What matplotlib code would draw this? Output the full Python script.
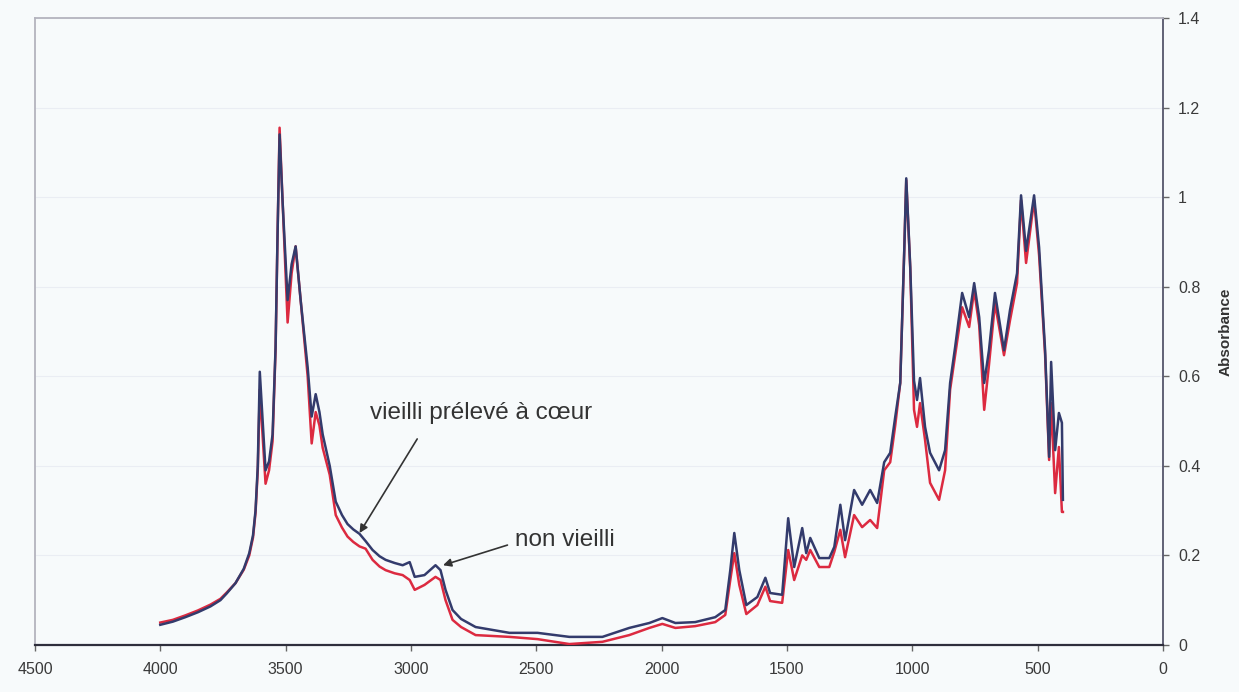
import matplotlib
matplotlib.use("Agg")
import matplotlib.pyplot as plt
from matplotlib.ticker import FuncFormatter, MultipleLocator

plt.rcParams['font.family'] = ['Liberation Sans', 'DejaVu Sans']

# wavenumber (cm-1) and absorbance of the two samples
wavenumber = [4000, 3950, 3900, 3850, 3800, 3760, 3735, 3700, 3667, 3645,
              3630, 3620, 3611, 3603, 3580, 3566, 3552, 3540, 3532, 3524,
              3512, 3492, 3476, 3460, 3440, 3412, 3396, 3380, 3365, 3352,
              3324, 3300, 3275, 3253, 3230, 3205, 3181, 3153, 3125, 3101,
              3065, 3033, 3005, 2985, 2946, 2902, 2882, 2862, 2834, 2800,
              2742, 2607, 2495, 2368, 2236, 2129, 2049, 1997, 1945, 1866,
              1786, 1746, 1726, 1710, 1690, 1662, 1618, 1586, 1567, 1519,
              1495, 1471, 1439, 1423, 1407, 1371, 1331, 1311, 1287, 1268,
              1232, 1200, 1168, 1140, 1112, 1088, 1068, 1048, 1032, 1024,
              1008, 993, 981, 969, 949, 929, 893, 869, 849, 829,
              801, 773, 753, 733, 713, 694, 670, 634, 610, 582,
              566, 546, 514, 494, 470, 454, 446, 430, 415, 403,
              399]

vieilli_coeur = [0.045, 0.052, 0.062, 0.073, 0.086, 0.100, 0.115, 0.138, 0.170, 0.205,
                 0.245, 0.300, 0.400, 0.610, 0.390, 0.410, 0.470, 0.665, 0.920, 1.140,
                 0.990, 0.770, 0.850, 0.890, 0.770, 0.620, 0.510, 0.560, 0.520, 0.470,
                 0.400, 0.320, 0.290, 0.270, 0.258, 0.248, 0.232, 0.212, 0.198, 0.190,
                 0.183, 0.178, 0.185, 0.152, 0.156, 0.178, 0.167, 0.123, 0.078, 0.058,
                 0.040, 0.027, 0.027, 0.018, 0.018, 0.038, 0.049, 0.060, 0.049, 0.051,
                 0.062, 0.078, 0.167, 0.250, 0.167, 0.089, 0.107, 0.150, 0.116, 0.112,
                 0.283, 0.174, 0.261, 0.205, 0.239, 0.194, 0.194, 0.219, 0.313, 0.234,
                 0.346, 0.313, 0.346, 0.317, 0.408, 0.429, 0.509, 0.585, 0.880, 1.042,
                 0.844, 0.590, 0.547, 0.596, 0.487, 0.429, 0.390, 0.435, 0.585, 0.665,
                 0.786, 0.732, 0.808, 0.732, 0.585, 0.658, 0.786, 0.658, 0.748, 0.830,
                 1.004, 0.880, 1.004, 0.888, 0.658, 0.420, 0.632, 0.435, 0.518, 0.496,
                 0.324]

non_vieilli = [0.050, 0.056, 0.066, 0.077, 0.090, 0.103, 0.117, 0.138, 0.168, 0.200,
               0.240, 0.295, 0.390, 0.570, 0.360, 0.390, 0.455, 0.660, 0.920, 1.155,
               0.990, 0.720, 0.830, 0.890, 0.770, 0.600, 0.450, 0.520, 0.490, 0.440,
               0.380, 0.290, 0.262, 0.242, 0.230, 0.220, 0.215, 0.190, 0.175, 0.167,
               0.160, 0.156, 0.145, 0.123, 0.134, 0.152, 0.145, 0.100, 0.056, 0.040,
               0.022, 0.018, 0.013, 0.002, 0.007, 0.022, 0.038, 0.047, 0.038, 0.042,
               0.051, 0.067, 0.145, 0.205, 0.134, 0.069, 0.089, 0.130, 0.098, 0.094,
               0.212, 0.145, 0.200, 0.190, 0.212, 0.174, 0.174, 0.208, 0.257, 0.196,
               0.290, 0.263, 0.279, 0.261, 0.390, 0.408, 0.490, 0.585, 0.880, 1.038,
               0.840, 0.525, 0.487, 0.540, 0.458, 0.362, 0.324, 0.390, 0.570, 0.647,
               0.754, 0.710, 0.792, 0.714, 0.525, 0.625, 0.763, 0.647, 0.725, 0.808,
               0.993, 0.853, 0.993, 0.870, 0.647, 0.413, 0.540, 0.339, 0.442, 0.297,
               0.297]

x_ticks = [4500, 4000, 3500, 3000, 2500, 2000, 1500, 1000, 500, 0]

fig = plt.figure(figsize=(12.39, 6.92), dpi=100, facecolor='#f7fafb')
ax = fig.add_axes([0.0282, 0.068, 0.9104, 0.906], facecolor='#f7fafb')

ax.plot(wavenumber, non_vieilli, color='#dc2a40', lw=1.8, zorder=3)
ax.plot(wavenumber, vieilli_coeur, color='#333b6c', lw=1.8, zorder=4)

ax.set_xlim(4500, 0)
ax.set_ylim(0, 1.4)
ax.set_xticks(x_ticks)
ax.yaxis.set_major_locator(MultipleLocator(0.2))
ax.yaxis.set_major_formatter(FuncFormatter(lambda v, p: '%g' % round(v, 1)))
ax.yaxis.tick_right()
ax.yaxis.set_label_position('right')
ax.set_ylabel('Absorbance', fontsize=11, fontweight='bold', color='#333333', labelpad=13)

ax.grid(axis='y', color='#eaedf3', lw=0.8, zorder=0)
ax.tick_params(axis='both', direction='out', length=4, width=1, color='#666666',
               labelsize=11.5, labelcolor='#3a3a3a')
ax.tick_params(axis='y', pad=7)
ax.tick_params(axis='x', pad=8)

for side in ('left', 'top'):
    ax.spines[side].set_color('#b4b4be')
    ax.spines[side].set_linewidth(1.3)
ax.spines['right'].set_color('#55556a')
ax.spines['right'].set_linewidth(1.3)
ax.spines['bottom'].set_color('#2e2e3c')
ax.spines['bottom'].set_linewidth(1.6)

arrow = dict(arrowstyle='-|>', color='#333333', lw=1.2, mutation_scale=12,
             shrinkA=0, shrinkB=0)
ax.annotate('', xy=(3205, 0.25), xytext=(2975, 0.46), arrowprops=arrow, zorder=5)
ax.text(3165, 0.518, 'vieilli prélevé à cœur', fontsize=17.5, color='#333333',
        ha='left', va='center')
ax.annotate('', xy=(2872, 0.178), xytext=(2615, 0.223), arrowprops=arrow, zorder=5)
ax.text(2583, 0.234, 'non vieilli', fontsize=17.5, color='#333333',
        ha='left', va='center')

fig.savefig('out.png', dpi=100, facecolor=fig.get_facecolor())
